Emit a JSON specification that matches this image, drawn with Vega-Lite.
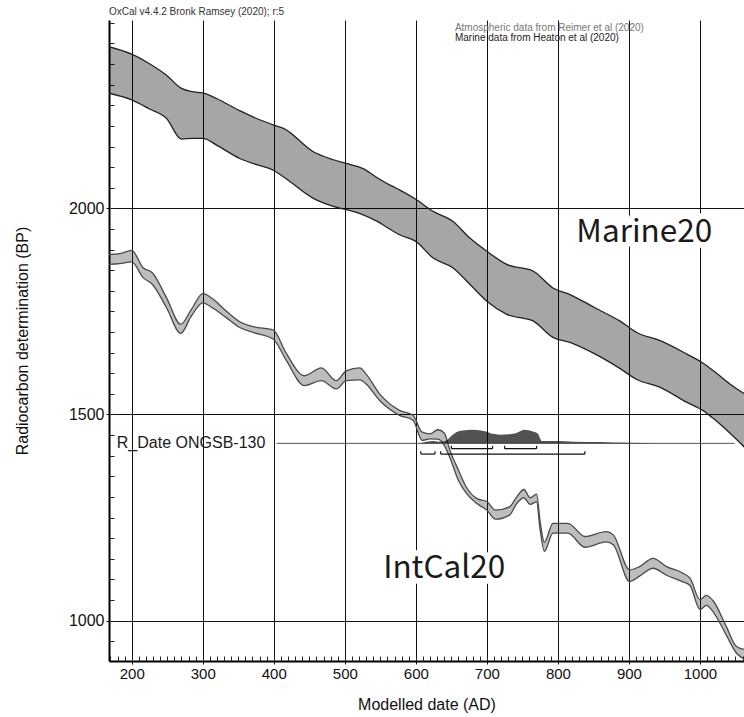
{
  "$schema": "https://vega.github.io/schema/vega-lite/v6.json",
  "width": 635,
  "height": 641,
  "autosize": "none",
  "padding": {"left": 109, "top": 20, "right": 0, "bottom": 56},
  "title": {
    "text": "OxCal v4.4.2 Bronk Ramsey (2020); r:5",
    "anchor": "start",
    "frame": "group",
    "fontSize": 10,
    "fontWeight": "normal",
    "font": "Liberation Sans",
    "color": "#333",
    "offset": 3
  },
  "datasets": {
    "marine": [
      {"year": 166, "hi": 2393, "lo": 2280},
      {"year": 200, "hi": 2374, "lo": 2263},
      {"year": 225, "hi": 2351, "lo": 2241},
      {"year": 249, "hi": 2323, "lo": 2218},
      {"year": 270, "hi": 2291, "lo": 2168},
      {"year": 285, "hi": 2283, "lo": 2170},
      {"year": 300, "hi": 2280, "lo": 2170},
      {"year": 320, "hi": 2266, "lo": 2153},
      {"year": 352, "hi": 2237, "lo": 2121},
      {"year": 376, "hi": 2218, "lo": 2106},
      {"year": 400, "hi": 2202, "lo": 2092},
      {"year": 415, "hi": 2193, "lo": 2075},
      {"year": 455, "hi": 2138, "lo": 2025},
      {"year": 484, "hi": 2118, "lo": 2005},
      {"year": 502, "hi": 2109, "lo": 1997},
      {"year": 525, "hi": 2097, "lo": 1985},
      {"year": 545, "hi": 2075, "lo": 1969},
      {"year": 563, "hi": 2057, "lo": 1950},
      {"year": 577, "hi": 2045, "lo": 1936},
      {"year": 600, "hi": 2022, "lo": 1920},
      {"year": 624, "hi": 1993, "lo": 1880},
      {"year": 652, "hi": 1969, "lo": 1856},
      {"year": 676, "hi": 1928, "lo": 1816},
      {"year": 700, "hi": 1896, "lo": 1775},
      {"year": 728, "hi": 1864, "lo": 1743},
      {"year": 765, "hi": 1848, "lo": 1727},
      {"year": 793, "hi": 1807, "lo": 1687},
      {"year": 817, "hi": 1791, "lo": 1675},
      {"year": 852, "hi": 1759, "lo": 1647},
      {"year": 887, "hi": 1727, "lo": 1612},
      {"year": 911, "hi": 1699, "lo": 1585},
      {"year": 944, "hi": 1679, "lo": 1566},
      {"year": 981, "hi": 1647, "lo": 1530},
      {"year": 1004, "hi": 1625, "lo": 1510},
      {"year": 1019, "hi": 1606, "lo": 1490},
      {"year": 1042, "hi": 1574, "lo": 1455},
      {"year": 1063, "hi": 1550, "lo": 1420}
    ],
    "intcal": [
      {"year": 166, "hi": 1888, "lo": 1864},
      {"year": 183, "hi": 1890, "lo": 1866},
      {"year": 200, "hi": 1898, "lo": 1870},
      {"year": 216, "hi": 1856, "lo": 1832},
      {"year": 229, "hi": 1844, "lo": 1816},
      {"year": 249, "hi": 1783, "lo": 1759},
      {"year": 269, "hi": 1719, "lo": 1697},
      {"year": 284, "hi": 1755, "lo": 1739},
      {"year": 300, "hi": 1793, "lo": 1771},
      {"year": 315, "hi": 1779, "lo": 1757},
      {"year": 333, "hi": 1751, "lo": 1735},
      {"year": 352, "hi": 1725, "lo": 1711},
      {"year": 371, "hi": 1713, "lo": 1699},
      {"year": 399, "hi": 1705, "lo": 1683},
      {"year": 418, "hi": 1647, "lo": 1630},
      {"year": 443, "hi": 1594, "lo": 1570},
      {"year": 467, "hi": 1613, "lo": 1582},
      {"year": 488, "hi": 1582, "lo": 1562},
      {"year": 502, "hi": 1606, "lo": 1582},
      {"year": 521, "hi": 1613, "lo": 1584},
      {"year": 530, "hi": 1598, "lo": 1574},
      {"year": 549, "hi": 1550, "lo": 1534},
      {"year": 577, "hi": 1510, "lo": 1498},
      {"year": 596, "hi": 1498, "lo": 1486},
      {"year": 609, "hi": 1457, "lo": 1437},
      {"year": 620, "hi": 1453, "lo": 1441},
      {"year": 631, "hi": 1463, "lo": 1440},
      {"year": 640, "hi": 1455, "lo": 1425},
      {"year": 648, "hi": 1413, "lo": 1395},
      {"year": 660, "hi": 1365, "lo": 1340},
      {"year": 671, "hi": 1324, "lo": 1309},
      {"year": 686, "hi": 1296, "lo": 1284},
      {"year": 700, "hi": 1289, "lo": 1268},
      {"year": 712, "hi": 1268, "lo": 1246},
      {"year": 732, "hi": 1276, "lo": 1256},
      {"year": 742, "hi": 1300, "lo": 1284},
      {"year": 752, "hi": 1318, "lo": 1298},
      {"year": 761, "hi": 1298, "lo": 1282},
      {"year": 770, "hi": 1307, "lo": 1288},
      {"year": 775, "hi": 1240, "lo": 1220},
      {"year": 781, "hi": 1190, "lo": 1168},
      {"year": 793, "hi": 1236, "lo": 1212},
      {"year": 814, "hi": 1236, "lo": 1212},
      {"year": 838, "hi": 1204, "lo": 1178},
      {"year": 868, "hi": 1216, "lo": 1191},
      {"year": 878, "hi": 1208, "lo": 1184},
      {"year": 901, "hi": 1123, "lo": 1095},
      {"year": 915, "hi": 1131, "lo": 1108},
      {"year": 934, "hi": 1151, "lo": 1127},
      {"year": 953, "hi": 1131, "lo": 1110},
      {"year": 976, "hi": 1115, "lo": 1094},
      {"year": 986, "hi": 1103, "lo": 1085},
      {"year": 1000, "hi": 1051, "lo": 1027},
      {"year": 1009, "hi": 1061, "lo": 1037},
      {"year": 1019, "hi": 1047, "lo": 1020},
      {"year": 1037, "hi": 986, "lo": 965},
      {"year": 1051, "hi": 938, "lo": 922},
      {"year": 1063, "hi": 930, "lo": 906}
    ],
    "dist": [
      {"year": 606, "base": 1430, "top": 1430},
      {"year": 615, "base": 1430, "top": 1434},
      {"year": 625, "base": 1430, "top": 1436},
      {"year": 635, "base": 1430, "top": 1434},
      {"year": 643, "base": 1430, "top": 1437},
      {"year": 648, "base": 1430, "top": 1445},
      {"year": 657, "base": 1430, "top": 1457},
      {"year": 666, "base": 1430, "top": 1461},
      {"year": 680, "base": 1430, "top": 1463},
      {"year": 699, "base": 1430, "top": 1459},
      {"year": 708, "base": 1430, "top": 1453},
      {"year": 718, "base": 1430, "top": 1451},
      {"year": 737, "base": 1430, "top": 1453},
      {"year": 746, "base": 1430, "top": 1459},
      {"year": 753, "base": 1430, "top": 1463},
      {"year": 765, "base": 1430, "top": 1459},
      {"year": 772, "base": 1430, "top": 1453},
      {"year": 777, "base": 1430, "top": 1436},
      {"year": 798, "base": 1430, "top": 1436},
      {"year": 822, "base": 1430, "top": 1434},
      {"year": 860, "base": 1430, "top": 1433},
      {"year": 879, "base": 1430, "top": 1432},
      {"year": 920, "base": 1430, "top": 1431},
      {"year": 960, "base": 1430, "top": 1430}
    ],
    "ranges": [
      {"from": 650, "to": 708, "lvl": 1417, "cap": 1424},
      {"from": 725, "to": 770, "lvl": 1417, "cap": 1424},
      {"from": 607, "to": 627, "lvl": 1404, "cap": 1411},
      {"from": 635, "to": 838, "lvl": 1404, "cap": 1411}
    ],
    "sample": [
      {"name": "R_Date ONGSB-130", "start": 179, "from": 404, "to": 1049, "bp": 1430}
    ],
    "curves": [
      {"name": "Marine20", "year": 826, "bp": 1918},
      {"name": "IntCal20", "year": 554, "bp": 1104}
    ],
    "sources": [
      {"text": "Atmospheric data from Reimer et al (2020)", "year": 655, "bp": 2437, "shade": "atmo"},
      {"text": "Marine data from Heaton et al (2020)", "year": 655, "bp": 2413, "shade": "marine"}
    ]
  },
  "resolve": {"axis": {"x": "independent", "y": "independent"}},
  "layer": [
    {
      "data": {"name": "marine"},
      "mark": {"type": "area", "color": "#000", "opacity": 0.35, "interpolate": "monotone", "clip": true},
      "encoding": {
        "x": {
          "field": "year", "type": "quantitative",
          "scale": {"domain": [168, 1062], "nice": false, "zero": false},
          "title": "Modelled date (AD)",
          "axis": {
            "orient": "bottom",
            "values": [200, 300, 400, 500, 600, 700, 800, 900, 1000],
            "format": "d",
            "labelOverlap": false,
            "labelFlush": false,
            "grid": true,
            "gridColor": "#111",
            "gridWidth": 1,
            "tickSize": 3,
            "tickColor": "#111",
            "domainColor": "#000",
            "domainWidth": 2,
            "labelFont": "Liberation Sans",
            "labelFontSize": 15,
            "labelColor": "#111",
            "labelPadding": 2,
            "titleFont": "Liberation Sans",
            "titleFontSize": 16,
            "titleFontWeight": "normal",
            "titleColor": "#111",
            "titlePadding": 15
          }
        },
        "y": {
          "field": "hi", "type": "quantitative",
          "scale": {"domain": [902, 2457], "nice": false, "zero": false},
          "title": "Radiocarbon determination (BP)",
          "axis": {
            "orient": "left",
            "values": [1000, 1500, 2000],
            "format": "d",
            "labelOverlap": false,
            "labelFlush": false,
            "grid": true,
            "gridColor": "#111",
            "gridWidth": 1,
            "tickSize": 3,
            "tickColor": "#111",
            "domainColor": "#000",
            "domainWidth": 2,
            "labelFont": "Liberation Sans",
            "labelFontSize": 16,
            "labelColor": "#111",
            "labelPadding": 2,
            "titleFont": "Liberation Sans",
            "titleFontSize": 16,
            "titleFontWeight": "normal",
            "titleColor": "#111",
            "titlePadding": 38
          }
        },
        "y2": {"field": "lo"}
      }
    },
    {
      "data": {"name": "marine"},
      "mark": {"type": "line", "color": "#222", "strokeWidth": 1.3, "interpolate": "monotone", "clip": true},
      "encoding": {
        "x": {
          "field": "year", "type": "quantitative",
          "scale": {"domain": [168, 1062], "nice": false, "zero": false},
          "axis": {
            "orient": "bottom",
            "title": null,
            "values": [170,180,190,200,210,220,230,240,250,260,270,280,290,300,310,320,330,340,350,360,370,380,390,400,410,420,430,440,450,460,470,480,490,500,510,520,530,540,550,560,570,580,590,600,610,620,630,640,650,660,670,680,690,700,710,720,730,740,750,760,770,780,790,800,810,820,830,840,850,860,870,880,890,900,910,920,930,940,950,960,970,980,990,1000,1010,1020,1030,1040,1050,1060],
            "labels": false,
            "grid": false,
            "domain": false,
            "tickSize": -5,
            "tickColor": "#222"
          }
        },
        "y": {
          "field": "hi", "type": "quantitative",
          "scale": {"domain": [902, 2457], "nice": false, "zero": false},
          "axis": {
            "orient": "left",
            "title": null,
            "values": [950,1000,1050,1100,1150,1200,1250,1300,1350,1400,1450,1500,1550,1600,1650,1700,1750,1800,1850,1900,1950,2000,2050,2100,2150,2200,2250,2300,2350,2400,2450],
            "labels": false,
            "grid": false,
            "domain": false,
            "tickSize": -5,
            "tickColor": "#222"
          }
        }
      }
    },
    {
      "data": {"name": "marine"},
      "mark": {"type": "line", "color": "#222", "strokeWidth": 1.3, "interpolate": "monotone", "clip": true},
      "encoding": {
        "x": {"field": "year", "type": "quantitative", "scale": {"domain": [168, 1062], "nice": false, "zero": false}, "axis": null},
        "y": {"field": "lo", "type": "quantitative", "scale": {"domain": [902, 2457], "nice": false, "zero": false}, "axis": null}
      }
    },
    {
      "data": {"name": "intcal"},
      "mark": {"type": "area", "color": "#000", "opacity": 0.26, "interpolate": "monotone", "clip": true},
      "encoding": {
        "x": {"field": "year", "type": "quantitative", "scale": {"domain": [168, 1062], "nice": false, "zero": false}, "axis": null},
        "y": {"field": "hi", "type": "quantitative", "scale": {"domain": [902, 2457], "nice": false, "zero": false}, "axis": null},
        "y2": {"field": "lo"}
      }
    },
    {
      "data": {"name": "intcal"},
      "mark": {"type": "line", "color": "#4a4a4a", "strokeWidth": 1.3, "interpolate": "monotone", "clip": true},
      "encoding": {
        "x": {"field": "year", "type": "quantitative", "scale": {"domain": [168, 1062], "nice": false, "zero": false}, "axis": null},
        "y": {"field": "hi", "type": "quantitative", "scale": {"domain": [902, 2457], "nice": false, "zero": false}, "axis": null}
      }
    },
    {
      "data": {"name": "intcal"},
      "mark": {"type": "line", "color": "#4a4a4a", "strokeWidth": 1.3, "interpolate": "monotone", "clip": true},
      "encoding": {
        "x": {"field": "year", "type": "quantitative", "scale": {"domain": [168, 1062], "nice": false, "zero": false}, "axis": null},
        "y": {"field": "lo", "type": "quantitative", "scale": {"domain": [902, 2457], "nice": false, "zero": false}, "axis": null}
      }
    },
    {
      "data": {"name": "sample"},
      "mark": {"type": "rule", "color": "#555", "strokeWidth": 1},
      "encoding": {
        "x": {"field": "from", "type": "quantitative", "scale": {"domain": [168, 1062], "nice": false, "zero": false}, "axis": null},
        "x2": {"field": "to"},
        "y": {"field": "bp", "type": "quantitative", "scale": {"domain": [902, 2457], "nice": false, "zero": false}, "axis": null}
      }
    },
    {
      "data": {"name": "dist"},
      "mark": {"type": "area", "color": "#000", "opacity": 0.68, "interpolate": "monotone", "clip": true},
      "encoding": {
        "x": {"field": "year", "type": "quantitative", "scale": {"domain": [168, 1062], "nice": false, "zero": false}, "axis": null},
        "y": {"field": "top", "type": "quantitative", "scale": {"domain": [902, 2457], "nice": false, "zero": false}, "axis": null},
        "y2": {"field": "base"}
      }
    },
    {
      "data": {"name": "ranges"},
      "mark": {"type": "rule", "color": "#111", "strokeWidth": 1.2},
      "encoding": {
        "x": {"field": "from", "type": "quantitative", "scale": {"domain": [168, 1062], "nice": false, "zero": false}, "axis": null},
        "x2": {"field": "to"},
        "y": {"field": "lvl", "type": "quantitative", "scale": {"domain": [902, 2457], "nice": false, "zero": false}, "axis": null}
      }
    },
    {
      "data": {"name": "ranges"},
      "mark": {"type": "rule", "color": "#111", "strokeWidth": 1.2},
      "encoding": {
        "x": {"field": "from", "type": "quantitative", "scale": {"domain": [168, 1062], "nice": false, "zero": false}, "axis": null},
        "y": {"field": "lvl", "type": "quantitative", "scale": {"domain": [902, 2457], "nice": false, "zero": false}, "axis": null},
        "y2": {"field": "cap"}
      }
    },
    {
      "data": {"name": "ranges"},
      "mark": {"type": "rule", "color": "#111", "strokeWidth": 1.2},
      "encoding": {
        "x": {"field": "to", "type": "quantitative", "scale": {"domain": [168, 1062], "nice": false, "zero": false}, "axis": null},
        "y": {"field": "lvl", "type": "quantitative", "scale": {"domain": [902, 2457], "nice": false, "zero": false}, "axis": null},
        "y2": {"field": "cap"}
      }
    },
    {
      "mark": {"type": "rule", "color": "#111", "strokeWidth": 1.2},
      "encoding": {
        "y": {"datum": 2457, "type": "quantitative", "scale": {"domain": [902, 2457], "nice": false, "zero": false}, "axis": null}
      }
    },
    {
      "data": {"name": "sample"},
      "mark": {"type": "text", "align": "left", "baseline": "middle", "font": "Liberation Sans", "fontSize": 16, "color": "#1a1a1a"},
      "encoding": {
        "x": {"field": "start", "type": "quantitative", "scale": {"domain": [168, 1062], "nice": false, "zero": false}, "axis": null},
        "y": {"field": "bp", "type": "quantitative", "scale": {"domain": [902, 2457], "nice": false, "zero": false}, "axis": null},
        "text": {"field": "name"}
      }
    },
    {
      "data": {"name": "sources"},
      "mark": {"type": "text", "align": "left", "baseline": "middle", "font": "Liberation Sans", "fontSize": 10},
      "encoding": {
        "x": {"field": "year", "type": "quantitative", "scale": {"domain": [168, 1062], "nice": false, "zero": false}, "axis": null},
        "y": {"field": "bp", "type": "quantitative", "scale": {"domain": [902, 2457], "nice": false, "zero": false}, "axis": null},
        "text": {"field": "text"},
        "color": {"field": "shade", "type": "nominal", "scale": {"domain": ["atmo", "marine"], "range": ["#777777", "#222222"]}, "legend": null}
      }
    },
    {
      "data": {"name": "curves"},
      "mark": {"type": "text", "align": "left", "baseline": "alphabetic", "font": "Noto Sans CJK JP", "fontSize": 31.5, "stroke": "white", "strokeWidth": 12, "strokeJoin": "round", "fill": "white"},
      "encoding": {
        "x": {"field": "year", "type": "quantitative", "scale": {"domain": [168, 1062], "nice": false, "zero": false}, "axis": null},
        "y": {"field": "bp", "type": "quantitative", "scale": {"domain": [902, 2457], "nice": false, "zero": false}, "axis": null},
        "text": {"field": "name"}
      }
    },
    {
      "data": {"name": "curves"},
      "mark": {"type": "text", "align": "left", "baseline": "alphabetic", "font": "Noto Sans CJK JP", "fontSize": 31.5, "color": "#1a1a1a"},
      "encoding": {
        "x": {"field": "year", "type": "quantitative", "scale": {"domain": [168, 1062], "nice": false, "zero": false}, "axis": null},
        "y": {"field": "bp", "type": "quantitative", "scale": {"domain": [902, 2457], "nice": false, "zero": false}, "axis": null},
        "text": {"field": "name"}
      }
    }
  ],
  "config": {
    "view": {"stroke": null},
    "background": "white"
  }
}
